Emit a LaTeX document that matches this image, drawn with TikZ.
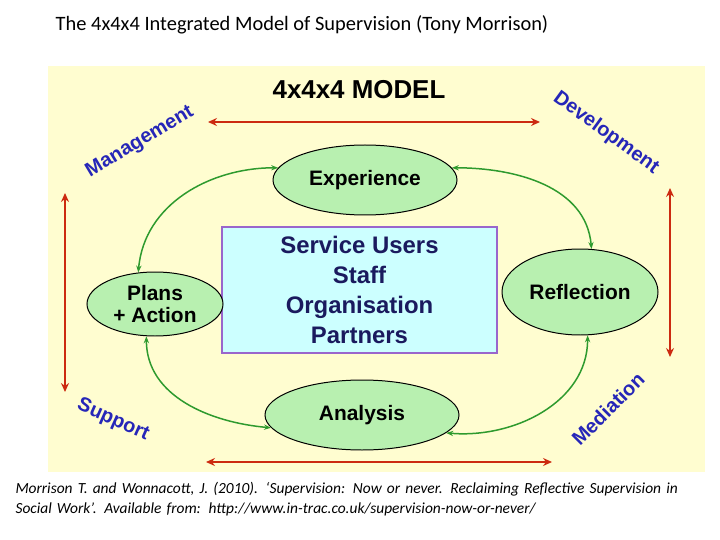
\documentclass[tikz,border=0pt]{standalone}
\usepackage{fontspec}
\setmainfont{Liberation Sans}
\newfontfamily\capfont{Carlito}
\usetikzlibrary{positioning,arrows.meta,shapes.geometric}
\definecolor{bgyellow}{HTML}{FFFDD0}
\definecolor{ovalgreen}{HTML}{B8F0B0}
\definecolor{arrgreen}{HTML}{2E9A2E}
\definecolor{arrred}{HTML}{CC2A10}
\definecolor{boxcyan}{HTML}{CCFFFF}
\definecolor{boxline}{HTML}{9966CC}
\definecolor{navy}{HTML}{1A1A5E}
\definecolor{labblue}{HTML}{2626B8}
\tikzset{
  stage/.style={ellipse,draw=black,line width=1pt,fill=ovalgreen,
                inner sep=0pt,font=\bfseries\fontsize{21}{24}\selectfont},
  cycle/.style={arrgreen,line width=1.5pt,{Stealth[length=7pt]}-{Stealth[length=7pt]}},
  axis/.style={arrred,line width=2.2pt,{Stealth[length=9pt,width=8pt]}-{Stealth[length=9pt,width=8pt]}},
  func/.style={labblue,font=\bfseries\fontsize{20}{22}\selectfont}
}
\begin{document}
\begin{tikzpicture}[x=1bp,y=-1bp]
  %% page and background
  %% ------------------------------------
  \useasboundingbox[fill=white] (0,0) rectangle (720,540);
  \fill[bgyellow] (48,66) rectangle (705,472);

  %% titles
  %% ------------------------------------
  \node (title) at (302,25) {\capfont\fontsize{20.5}{24}\selectfont The 4x4x4 Integrated Model of Supervision (Tony Morrison)};
  \node (model) at (359,90) {\bfseries\fontsize{26}{30}\selectfont 4x4x4 MODEL};

  %% centre box
  %% ------------------------------------
  \node[draw=boxline,line width=1.2pt,fill=boxcyan,minimum width=275bp,minimum height=126bp,
        text=navy,font=\bfseries\fontsize{24}{30}\selectfont,align=center] (core) at (359.5,290)
        {Service Users\\ Staff\\ Organisation\\ Partners};

  %% the four stages
  %% ------------------------------------
  \node[stage,minimum width=184bp,minimum height=70bp] (exp) at (365,180) {Experience};
  \node[stage,minimum width=156bp,minimum height=86bp] (ref) at (580,292) {Reflection};
  \node[stage,minimum width=194bp,minimum height=70bp] (ana) at (362,415) {Analysis};
  \node[stage,minimum width=136bp,minimum height=64bp,align=center,
        font=\bfseries\fontsize{21}{23}\selectfont] (pla) at (155,304) {Plans\\ + Action};

  %% cycle
  %% ------------------------------------
  \draw[cycle] (exp.8)   to[out=0,in=95]    (ref.75);
  \draw[cycle] (ref.-80) to[out=-90,in=-5]  (ana.-12);
  \draw[cycle] (ana.188) to[out=175,in=-90] (pla.-105);
  \draw[cycle] (pla.118) to[out=85,in=180]  (exp.172);

  %% four functions
  %% ------------------------------------
  \coordinate (t1) at (208,122); \coordinate (t2) at (540,122);
  \coordinate (b1) at (206,462); \coordinate (b2) at (552,462);
  \coordinate (l1) at (65,193);  \coordinate (l2) at (65,392);
  \coordinate (r1) at (670,188); \coordinate (r2) at (670,357);
  \draw[axis] (t1) -- (t2);
  \draw[axis] (b1) -- (b2);
  \draw[axis] (l1) -- (l2);
  \draw[axis] (r1) -- (r2);

  \node[func,rotate=31]  (mgt) at (140,142) {Management};
  \node[func,rotate=-36] (dev) at (606,133) {Development};
  \node[func,rotate=-24] (sup) at (113,420) {Support};
  \node[func,rotate=45]  (med) at (608,409) {Mediation};

  %% reference
  %% ------------------------------------
  \node[anchor=north west,align=left,text width=705bp,
        font=\capfont\itshape\fontsize{15.5}{20}\selectfont] (cite) at (12,479)
        {Morrison T. and Wonnacott, J. (2010). ‘Supervision: Now or never. Reclaiming Reflective Supervision in\\
         Social Work’. Available from: http://www.in-trac.co.uk/supervision-now-or-never/};
\end{tikzpicture}
\end{document}
